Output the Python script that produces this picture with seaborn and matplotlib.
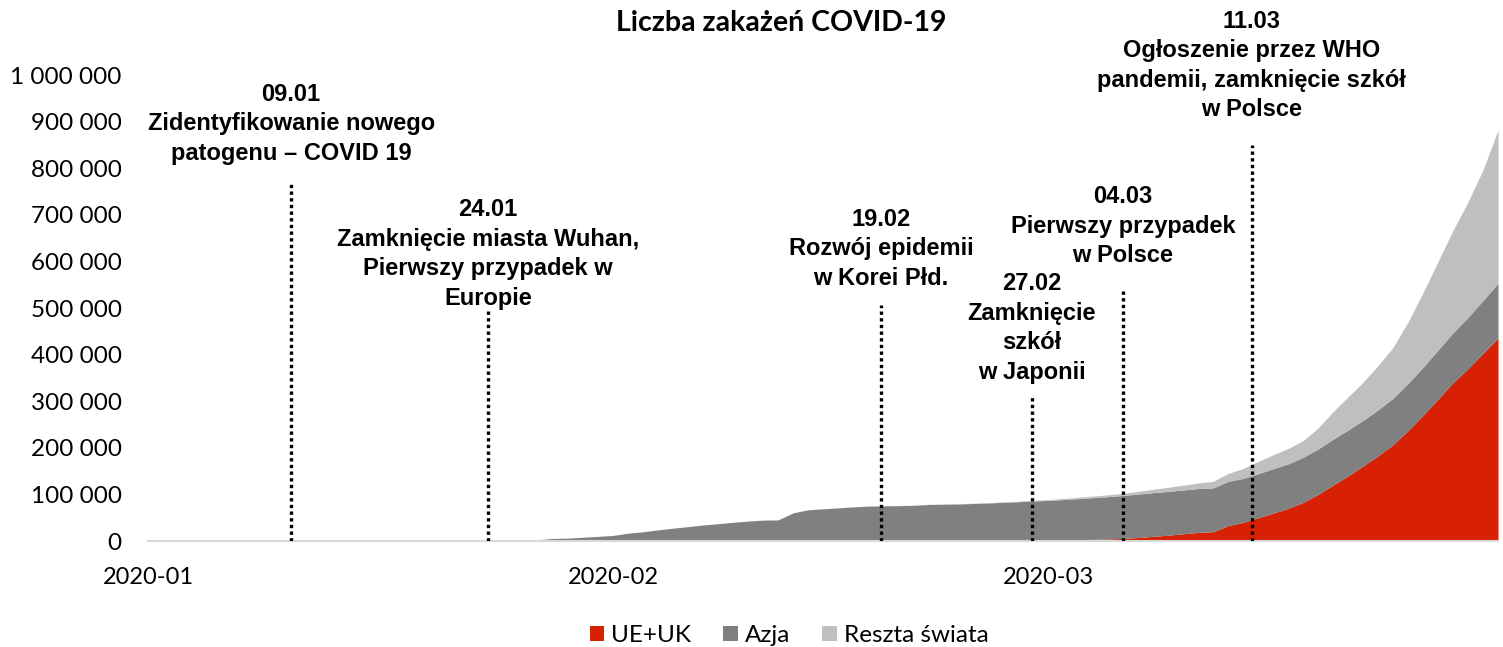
import pandas as pd
import numpy as np
import seaborn as sns
import matplotlib.pyplot as plt
import matplotlib.dates as mdates
from matplotlib.patches import Patch

# daily values 2020-01-22 .. 2020-03-31
dates = pd.date_range('2020-01-22', '2020-03-31', freq='D')

ue_uk = [0, 0, 2, 3, 3, 4, 7, 10, 14, 20,
         22, 25, 26, 28, 30, 32, 35, 38, 40, 40, 42, 44, 45, 46, 46, 46, 47, 47, 48, 49,
         70, 150, 250, 300, 420, 560, 750, 1050, 1400,
         1800, 2300, 2900, 3600, 4400, 5600, 7500, 10000, 12500, 15500,
         18500, 20000, 33000, 40000, 50000, 60000, 70000, 83000, 100000, 120000,
         140000, 161000, 183000, 207000, 237000, 270000, 305000, 340000, 370000, 403000,
         436000]

azja = [555, 650, 930, 1420, 2100, 2900, 5550, 6130, 8200, 9900,
        12000, 16750, 19850, 23850, 27600, 30800, 34350, 37100, 40150, 42700,
        44800, 45200, 60400, 66900, 69000, 71100, 73100, 74900, 75400, 75900,
        76500, 78200, 78700, 79300, 80100, 81100, 82200, 83300, 84600,
        85300, 86600, 88000, 89400, 90800, 92200, 93300, 93800, 94000, 94000,
        94000, 94000, 95000, 94500, 94500, 95000, 95500, 96500, 97500, 98500,
        98200, 98000, 98500, 99500, 101000, 103000, 105000, 107000, 110000, 113500,
        117000]

reszta = [10, 15, 20, 25, 30, 35, 40, 45, 55, 65,
          70, 75, 80, 85, 90, 95, 100, 105, 110, 115,
          120, 125, 130, 135, 140, 150, 160, 180, 200, 250,
          300, 380, 450, 550, 700, 850, 1000, 1200, 1450,
          1900, 2400, 2900, 3400, 4000, 4600, 5800, 7200, 8700, 10300,
          12000, 14000, 17000, 21000, 26000, 30000, 33000, 36000, 45000, 59000,
          71000, 82000, 95000, 109000, 132000, 160000, 190000, 220000, 248000, 280000,
          329000]

series_names = ['UE+UK', 'Azja', 'Reszta świata']
colors = ['#D82004', '#808080', '#BFBFBF']

# events: where the dotted line is drawn, label, how high the line goes
event_dates = pd.to_datetime(['2020-01-10 13:00', '2020-01-23 16:00', '2020-02-18 21:00',
                              '2020-02-28 22:00', '2020-03-06 00:00', '2020-03-14 14:00'])
event_labels = ['09.01\nZidentyfikowanie nowego\npatogenu – COVID 19',
                '24.01\nZamknięcie miasta Wuhan,\nPierwszy przypadek w\nEuropie',
                '19.02\nRozwój epidemii\nw Korei Płd.',
                '27.02\nZamknięcie\nszkół\nw Japonii',
                '04.03\nPierwszy przypadek\nw Polsce',
                '11.03\nOgłoszenie przez WHO\npandemii, zamknięcie szkół\nw Polsce']
line_tops = [770000, 500000, 506000, 313000, 539000, 850000]
label_y = [895000, 616000, 627000, 457000, 676000, 1020000]

df = pd.DataFrame({'data': dates, 'UE+UK': ue_uk, 'Azja': azja, 'Reszta świata': reszta})

sns.set_style('white')
plt.rcParams['font.family'] = ['Lato', 'DejaVu Sans']
plt.rcParams['text.color'] = 'black'

fig = plt.figure(figsize=(15.03, 6.47), dpi=100)
ax = fig.add_axes([0.0985, 0.1638, 0.8982, 0.7202])

ax.stackplot(df['data'], df['UE+UK'], df['Azja'], df['Reszta świata'],
             colors=colors, linewidth=0)

for d, top, lab, ly in zip(event_dates, line_tops, event_labels, label_y):
    ax.plot([d, d], [0, top], color='black', lw=2.4, linestyle=(0, (1, 1)), zorder=5)
    ax.text(d, ly, lab, ha='center', va='center', fontsize=17, fontweight='bold',
            color='black', family=['Liberation Sans Narrow', 'Liberation Sans'],
            linespacing=1.36, clip_on=False)

ax.set_xlim(pd.Timestamp('2020-01-01'), pd.Timestamp('2020-03-31'))
ax.set_ylim(0, 1000000)
ax.set_yticks(np.arange(0, 1000001, 100000))
ax.yaxis.set_major_formatter(plt.FuncFormatter(lambda v, p: f'{v:,.0f}'.replace(',', ' ')))
ax.set_xticks(pd.to_datetime(['2020-01-01', '2020-02-01', '2020-03-01']))
ax.xaxis.set_major_formatter(mdates.DateFormatter('%Y-%m'))

ax.tick_params(axis='y', length=0, pad=19, labelsize=17.5, colors='black')
ax.tick_params(axis='x', length=6.5, width=1.2, color='#D9D9D9', direction='out',
               pad=12, labelsize=17, labelcolor='black')
sns.despine(ax=ax, left=True)
ax.spines['bottom'].set_color('#D9D9D9')
ax.spines['bottom'].set_linewidth(1.5)
ax.set_xlabel('')
ax.set_ylabel('')

fig.text(0.5196, 0.964, 'Liczba zakażeń COVID-19', ha='center', va='center',
         fontsize=20.5, fontweight='bold', color='black')

handles = [Patch(facecolor=c, edgecolor='none') for c in colors]
fig.legend(handles, series_names, loc='center', bbox_to_anchor=(0.525, 0.018), ncol=3,
           frameon=False, fontsize=17.5, handlelength=0.6, handleheight=0.6,
           handletextpad=0.3, columnspacing=1.3, labelcolor='black')

fig.savefig('out.png', dpi=100)
